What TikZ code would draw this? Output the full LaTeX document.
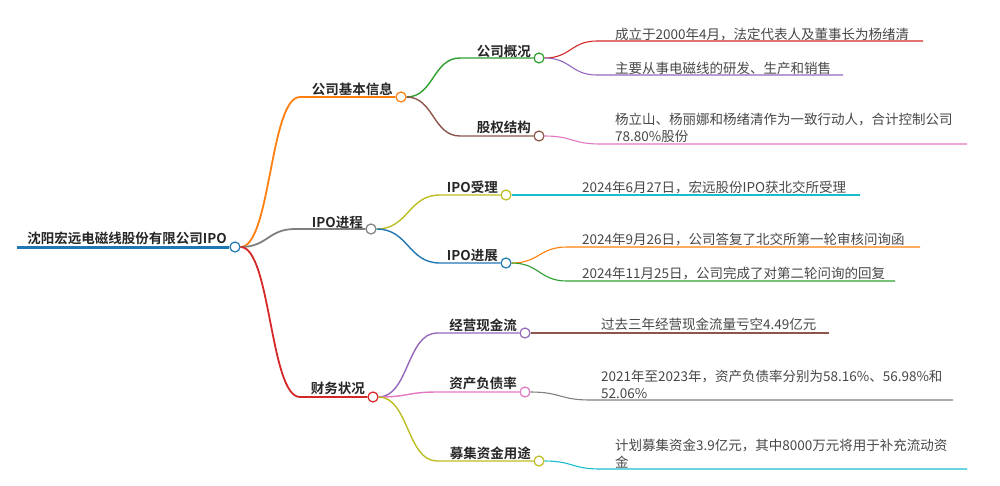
\documentclass[tikz,border=0pt]{standalone}
\usepackage{fontspec}
\newfontfamily\cjk{Noto Sans CJK SC}[BoldFont={Noto Sans CJK SC Bold}]
\definecolor{cblue}{HTML}{1F77B4}
\definecolor{corange}{HTML}{FF7F0E}
\definecolor{cgreen}{HTML}{2CA02C}
\definecolor{cred}{HTML}{D62728}
\definecolor{cpurple}{HTML}{9467BD}
\definecolor{cbrown}{HTML}{8C564B}
\definecolor{cpink}{HTML}{E377C2}
\definecolor{cgray}{HTML}{7F7F7F}
\definecolor{colive}{HTML}{BCBD22}
\definecolor{ccyan}{HTML}{17BECF}
\begin{document}
\begin{tikzpicture}[x=1pt,y=-1pt,
  dot/.style={circle,draw,fill=white,minimum size=10pt,inner sep=0pt,line width=1.2pt},
  lab/.style={anchor=base east,inner sep=0pt,font=\cjk\bfseries\fontsize{13.5}{16}\selectfont,text=black!85},
  leaf/.style={anchor=base west,inner sep=0pt,align=left,font=\cjk\fontsize{13.5}{17}\selectfont,text=black!72},
  lz/.style={line width=3pt},
  lone/.style={line width=1.8pt},
  ltwo/.style={line width=1.4pt},
  lthree/.style={line width=1.1pt}]
\useasboundingbox (0,0) rectangle (1000,485);
% circles
\node[dot,draw=cblue] (r) at (235,247) {};
\node[dot,draw=corange] (a) at (401,97) {};
\node[dot,draw=cgray] (b) at (371,229) {};
\node[dot,draw=cred] (c) at (373,397) {};
\node[dot,draw=cgreen] (a1) at (539,58) {};
\node[dot,draw=cbrown] (a2) at (539,136) {};
\node[dot,draw=colive] (b1) at (506,195) {};
\node[dot,draw=cblue] (b2) at (506,263) {};
\node[dot,draw=cpurple] (c1) at (525,333) {};
\node[dot,draw=cpink] (c2) at (525,392) {};
\node[dot,draw=colive] (c3) at (539,461) {};
% bend coordinates
\coordinate (r0) at (17,247);
\coordinate (ka) at (300,97);
\coordinate (kb) at (295,229);
\coordinate (kc) at (300,397);
\coordinate (ka1) at (460,58);
\coordinate (ka2) at (460,136);
\coordinate (kb1) at (440,195);
\coordinate (kb2) at (440,263);
\coordinate (kc1) at (437,333);
\coordinate (kc2) at (437,392);
\coordinate (kc3) at (437,461);
\coordinate (ka11) at (597,41);
\coordinate (ea11) at (923,41);
\coordinate (ka12) at (597,75);
\coordinate (ea12) at (843,75);
\coordinate (ka21) at (600,144);
\coordinate (ea21) at (967,144);
\coordinate (eb11) at (860,195);
\coordinate (kb21) at (567,247);
\coordinate (eb21) at (920,247);
\coordinate (kb22) at (567,281);
\coordinate (eb22) at (895,281);
\coordinate (ec11) at (829,333);
\coordinate (kc21) at (590,400);
\coordinate (ec21) at (953,400);
\coordinate (kc31) at (600,469);
\coordinate (ec31) at (967,469);
% root
\draw[lz,cblue] (r0) -- (r.west);
% level 1
\draw[lone,corange] (r.east) .. controls +(30,0) and +(-30,0) .. (ka) -- (a.west);
\draw[lone,cgray] (r.east) .. controls +(27,0) and +(-27,0) .. (kb) -- (b.west);
\draw[lone,cred] (r.east) .. controls +(30,0) and +(-30,0) .. (kc) -- (c.west);
% level 2
\draw[ltwo,cgreen] (a.east) .. controls +(27,0) and +(-27,0) .. (ka1) -- (a1.west);
\draw[ltwo,cbrown] (a.east) .. controls +(27,0) and +(-27,0) .. (ka2) -- (a2.west);
\draw[ltwo,colive] (b.east) .. controls +(32,0) and +(-32,0) .. (kb1) -- (b1.west);
\draw[ltwo,cblue] (b.east) .. controls +(32,0) and +(-32,0) .. (kb2) -- (b2.west);
\draw[ltwo,cpurple] (c.east) .. controls +(30,0) and +(-30,0) .. (kc1) -- (c1.west);
\draw[ltwo,cpink] (c.east) .. controls +(30,0) and +(-30,0) .. (kc2) -- (c2.west);
\draw[ltwo,colive] (c.east) .. controls +(30,0) and +(-30,0) .. (kc3) -- (c3.west);
% level 3
\draw[lthree,cred] (a1.east) .. controls +(26,0) and +(-26,0) .. (ka11) -- (ea11);
\draw[lthree,cpurple] (a1.east) .. controls +(26,0) and +(-26,0) .. (ka12) -- (ea12);
\draw[lthree,cpink] (a2.east) .. controls +(28,0) and +(-28,0) .. (ka21) -- (ea21);
\draw[lthree,ccyan] (b1.east) -- (eb11);
\draw[lthree,corange] (b2.east) .. controls +(28,0) and +(-28,0) .. (kb21) -- (eb21);
\draw[lthree,cgreen] (b2.east) .. controls +(28,0) and +(-28,0) .. (kb22) -- (eb22);
\draw[lthree,cbrown] (c1.east) -- (ec11);
\draw[lthree,cgray] (c2.east) .. controls +(30,0) and +(-30,0) .. (kc21) -- (ec21);
\draw[lthree,ccyan] (c3.east) .. controls +(28,0) and +(-28,0) .. (kc31) -- (ec31);
% labels
\node[lab] (tr) at (227,243) {沈阳宏远电磁线股份有限公司IPO};
\node[lab] (ta) at (393,94) {公司基本信息};
\node[lab] (tb) at (363,227) {IPO进程};
\node[lab] (tc) at (365,393) {财务状况};
\node[lab] (ta1) at (531,56) {公司概况};
\node[lab] (ta2) at (531,132) {股权结构};
\node[lab] (tb1) at (498,192) {IPO受理};
\node[lab] (tb2) at (498,260) {IPO进展};
\node[lab] (tc1) at (517,330) {经营现金流};
\node[lab] (tc2) at (517,388) {资产负债率};
\node[lab] (tc3) at (531,458) {募集资金用途};
% leaves
\node[leaf] (la11) at (615,39) {成立于2000年4月，法定代表人及董事长为杨绪清};
\node[leaf] (la12) at (615,73) {主要从事电磁线的研发、生产和销售};
\node[leaf] (la21) at (615,141) {杨立山、杨丽娜和杨绪清作为一致行动人，合计控制公司\\78.80\%股份};
\node[leaf] (lb11) at (582,192) {2024年6月27日，宏远股份IPO获北交所受理};
\node[leaf] (lb21) at (582,244) {2024年9月26日，公司答复了北交所第一轮审核问询函};
\node[leaf] (lb22) at (582,278) {2024年11月25日，公司完成了对第二轮问询的回复};
\node[leaf] (lc11) at (601,329) {过去三年经营现金流量亏空4.49亿元};
\node[leaf] (lc21) at (601,398) {2021年至2023年，资产负债率分别为58.16\%、56.98\%和\\52.06\%};
\node[leaf] (lc31) at (615,467) {计划募集资金3.9亿元，其中8000万元将用于补充流动资\\金};
\end{tikzpicture}
\end{document}
